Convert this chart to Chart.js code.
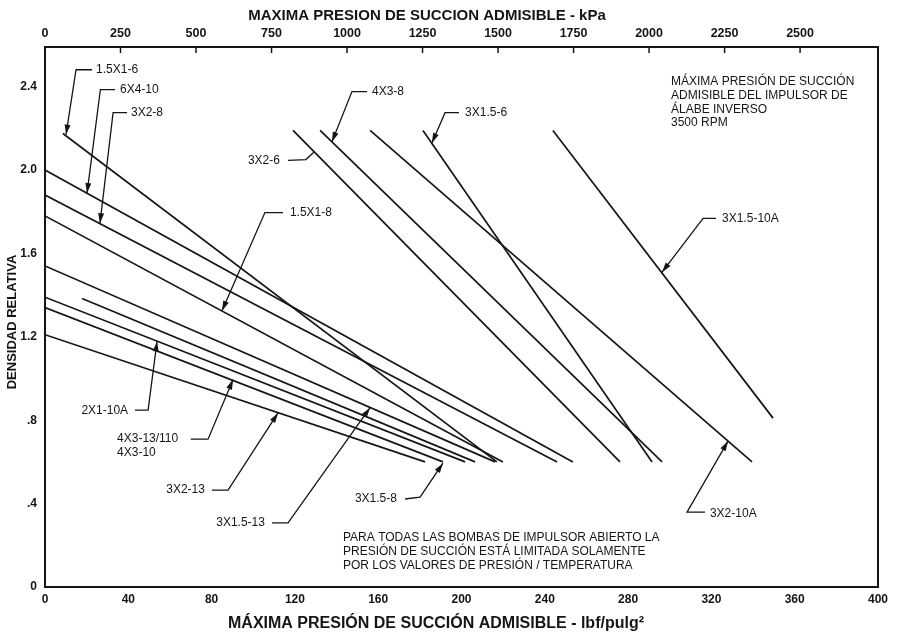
<!DOCTYPE html>
<html>
<head>
<meta charset="utf-8">
<script src="https://cdn.jsdelivr.net/npm/chart.js@4.4.1/dist/chart.umd.min.js"></script>
<style>
  html, body { margin: 0; padding: 0; background: #fff; }
  canvas { display: block; }
</style>
</head>
<body>
<canvas id="npshChart" width="900" height="636"></canvas>
<script>
// pump sizes, one straight line each (start point -> end point)
const curveNames = ['1.5X1-6', '6X4-10', '3X2-8', '1.5X1-8', '3X1.5-13', '2X1-10A', '3X1.5-8',
                    '3X2-13', '4X3-13/110', '3X2-6', '4X3-8', '3X2-10A', '3X1.5-6', '3X1.5-10A'];
const startPsi = [8.6, 0, 0, 0, 0, 0, 0, 0, 17.8, 119.1, 132.1, 156.1, 181.5, 243.9];
const startSg  = [2.175, 2.0, 1.88, 1.78, 1.54, 1.39, 1.34, 1.21, 1.384, 2.19, 2.19, 2.19, 2.19, 2.19];
const endPsi   = [217.0, 253.5, 245.9, 219.9, 216.1, 201.7, 191.1, 182.5, 206.5, 276.1, 296.3, 339.5, 291.5, 349.6];
const endSg    = [0.6, 0.6, 0.6, 0.6, 0.6, 0.6, 0.6, 0.6, 0.6, 0.6, 0.6, 0.6, 0.6, 0.81];

const psiTicks = [0, 40, 80, 120, 160, 200, 240, 280, 320, 360, 400];
const kpaTicks = [0, 250, 500, 750, 1000, 1250, 1500, 1750, 2000, 2250, 2500];
const sgTicks = [0, 0.4, 0.8, 1.2, 1.6, 2.0, 2.4];
const sgTickLabels = ['0', '.4', '.8', '1.2', '1.6', '2.0', '2.4'];

const PSI_TO_KPA = 6.895;
const FONT = "'Liberation Sans', Arial, sans-serif";
const INK = '#151515';

// callouts: label text, where it sits (psi, SG), and leader path ending at the curve
const callouts = [
  { text: ['1.5X1-6'], at: [24.5, 2.481], align: 'left', path: [[22.6, 2.481], [14.9, 2.481], [10.1, 2.17]], arrow: true },
  { text: ['6X4-10'], at: [36.0, 2.386], align: 'left', path: [[33.6, 2.386], [26.6, 2.386], [20.2, 1.89]], arrow: true },
  { text: ['3X2-8'], at: [41.3, 2.275], align: 'left', path: [[39.4, 2.275], [32.7, 2.275], [26.4, 1.745]], arrow: true },
  { text: ['1.5X1-8'], at: [117.6, 1.796], align: 'left', path: [[114.3, 1.796], [105.6, 1.796], [85.0, 1.325]], arrow: true },
  { text: ['2X1-10A'], at: [39.9, 0.848], align: 'right', path: [[43.2, 0.848], [49.5, 0.848], [53.8, 1.178]], arrow: true },
  { text: ['4X3-13/110', '4X3-10'], at: [34.6, 0.709], align: 'left', path: [[70.0, 0.709], [78.3, 0.709], [90.3, 0.995]], arrow: true },
  { text: ['3X2-13'], at: [76.8, 0.465], align: 'right', path: [[80.2, 0.465], [87.9, 0.465], [111.9, 0.835]], arrow: true },
  { text: ['3X1.5-13'], at: [105.6, 0.308], align: 'right', path: [[109.0, 0.308], [116.7, 0.308], [156.1, 0.86]], arrow: true },
  { text: ['3X1.5-8'], at: [169.0, 0.422], align: 'right', path: [[172.9, 0.422], [180.1, 0.431], [191.1, 0.594]], arrow: true },
  { text: ['3X2-6'], at: [112.8, 2.046], align: 'right', path: [[116.7, 2.046], [125.3, 2.05], [129.2, 2.086]], arrow: false },
  { text: ['4X3-8'], at: [157.0, 2.376], align: 'left', path: [[154.6, 2.376], [147.4, 2.376], [137.8, 2.135]], arrow: true },
  { text: ['3X1.5-6'], at: [201.7, 2.275], align: 'left', path: [[198.8, 2.275], [192.1, 2.275], [185.8, 2.13]], arrow: true },
  { text: ['3X1.5-10A'], at: [325.1, 1.768], align: 'left', path: [[322.2, 1.768], [316.0, 1.768], [296.3, 1.51]], arrow: true },
  { text: ['3X2-10A'], at: [319.3, 0.354], align: 'left', path: [[316.9, 0.359], [308.3, 0.359], [328.0, 0.70]], arrow: true }
];

const notes = [
  { lines: ['MÁXIMA PRESIÓN DE SUCCIÓN', 'ADMISIBLE DEL IMPULSOR DE', 'ÁLABE INVERSO', '3500 RPM'], at: [300.6, 2.424] },
  { lines: ['PARA TODAS LAS BOMBAS DE IMPULSOR ABIERTO LA', 'PRESIÓN DE SUCCIÓN ESTÁ LIMITADA SOLAMENTE',
            'POR LOS VALORES DE PRESIÓN / TEMPERATURA'], at: [143.1, 0.235] }
];

const datasets = curveNames.map((name, i) => ({
  label: name,
  data: [{ x: startPsi[i], y: startSg[i] }, { x: endPsi[i], y: endSg[i] }],
  showLine: true,
  borderColor: INK,
  borderWidth: 1.7,
  pointRadius: 0,
  fill: false
}));

function px(chart, p) {
  return [chart.scales.x.getPixelForValue(p[0]), chart.scales.y.getPixelForValue(p[1])];
}

const decorPlugin = {
  id: 'decor',
  afterDraw(chart) {
    const ctx = chart.ctx;
    const area = chart.chartArea;
    ctx.save();

    // frame
    ctx.strokeStyle = INK;
    ctx.lineWidth = 2;
    ctx.strokeRect(area.left, area.top, area.right - area.left, area.bottom - area.top);

    // kPa tick marks pointing inward
    ctx.lineWidth = 1.5;
    kpaTicks.forEach(v => {
      const x = chart.scales.kpa.getPixelForValue(v);
      ctx.beginPath();
      ctx.moveTo(x, area.top);
      ctx.lineTo(x, area.top + 6);
      ctx.stroke();
    });

    // axis titles
    ctx.fillStyle = INK;
    ctx.textBaseline = 'middle';
    ctx.textAlign = 'center';
    ctx.font = 'bold 15px ' + FONT;
    ctx.fillText('MAXIMA PRESION DE SUCCION ADMISIBLE - kPa', 427, 15.5);
    ctx.font = 'bold 16px ' + FONT;
    ctx.fillText('MÁXIMA PRESIÓN DE SUCCIÓN ADMISIBLE - lbf/pulg²', 436, 624);
    ctx.save();
    ctx.translate(12.5, 322);
    ctx.rotate(-Math.PI / 2);
    ctx.font = 'bold 13px ' + FONT;
    ctx.fillText('DENSIDAD RELATIVA', 0, 0);
    ctx.restore();

    // callouts
    ctx.font = '12px ' + FONT;
    ctx.lineWidth = 1.3;
    callouts.forEach(c => {
      const pts = c.path.map(p => px(chart, p));
      ctx.beginPath();
      ctx.moveTo(pts[0][0], pts[0][1]);
      for (let i = 1; i < pts.length; i++) ctx.lineTo(pts[i][0], pts[i][1]);
      ctx.stroke();
      if (c.arrow) {
        const [tx, ty] = pts[pts.length - 1];
        const [fx, fy] = pts[pts.length - 2];
        const a = Math.atan2(ty - fy, tx - fx);
        const len = 10, half = 3;
        const bx = tx - len * Math.cos(a), by = ty - len * Math.sin(a);
        ctx.beginPath();
        ctx.moveTo(tx, ty);
        ctx.lineTo(bx + half * Math.sin(a), by - half * Math.cos(a));
        ctx.lineTo(bx - half * Math.sin(a), by + half * Math.cos(a));
        ctx.closePath();
        ctx.fill();
      }
      const [lx, ly] = px(chart, c.at);
      ctx.textAlign = c.align;
      c.text.forEach((t, k) => ctx.fillText(t, lx, ly + k * 14));
    });

    // notes
    ctx.textAlign = 'left';
    notes.forEach(n => {
      const [nx, ny] = px(chart, n.at);
      n.lines.forEach((t, k) => ctx.fillText(t, nx, ny + k * 13.8));
    });

    ctx.restore();
  }
};

const tickFont = { family: FONT, size: 12, weight: 'bold' };

new Chart(document.getElementById('npshChart'), {
  type: 'scatter',
  data: { datasets: datasets },
  options: {
    responsive: false,
    animation: false,
    devicePixelRatio: 1,
    layout: { padding: { left: 0, right: 22, top: 0, bottom: 0 } },
    plugins: { legend: { display: false }, tooltip: { enabled: false } },
    scales: {
      x: {
        type: 'linear', position: 'bottom', min: 0, max: 400,
        afterBuildTicks: s => { s.ticks = psiTicks.map(v => ({ value: v })); },
        afterFit: s => { s.height = 49; },
        ticks: { color: INK, font: tickFont, padding: 5, maxRotation: 0, autoSkip: false,
                 callback: v => String(v) },
        grid: { display: false, drawTicks: false },
        border: { display: false }
      },
      kpa: {
        type: 'linear', position: 'top', min: 0, max: 400 * PSI_TO_KPA,
        afterBuildTicks: s => { s.ticks = kpaTicks.map(v => ({ value: v })); },
        afterFit: s => { s.height = 47; },
        ticks: { color: INK, font: { family: FONT, size: 12.5, weight: 'bold' }, padding: 6,
                 maxRotation: 0, autoSkip: false, callback: v => String(v) },
        grid: { display: false, drawTicks: false },
        border: { display: false }
      },
      y: {
        type: 'linear', min: 0, max: 2.59,
        afterBuildTicks: s => { s.ticks = sgTicks.map(v => ({ value: v })); },
        afterFit: s => { s.width = 45; },
        ticks: { color: INK, font: tickFont, padding: 8, autoSkip: false,
                 callback: (v, i) => sgTickLabels[i] },
        grid: { display: false, drawTicks: false },
        border: { display: false }
      }
    }
  },
  plugins: [decorPlugin]
});
</script>
</body>
</html>
